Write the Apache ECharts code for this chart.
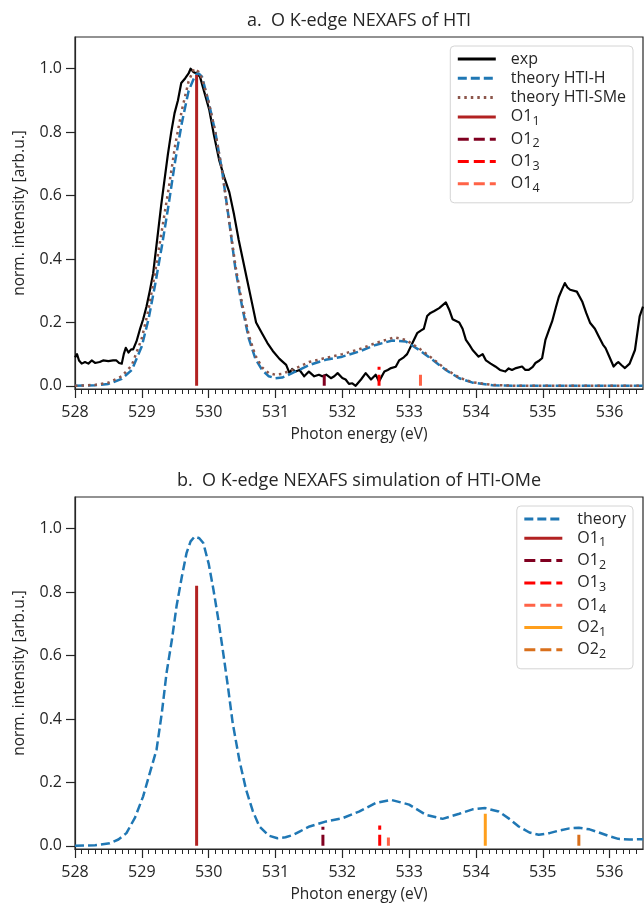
<!DOCTYPE html>
<html><head><meta charset="utf-8">
<script src="https://cdn.jsdelivr.net/npm/echarts@6/dist/echarts.min.js"></script>
<style>html,body{margin:0;padding:0;background:#fff}#c{width:644px;height:907px}</style>
</head><body><div id="c"></div>
<script>
// ---------- data ----------
const xMajorTicks = [528, 529, 530, 531, 532, 533, 534, 535, 536];
const yTicks = [0, 0.2, 0.4, 0.6, 0.8, 1.0];

const titleA = 'a.  O K-edge NEXAFS of HTI';
const titleB = 'b.  O K-edge NEXAFS simulation of HTI-OMe';
const xName = 'Photon energy (eV)';
const yName = 'norm. intensity [arb.u.]';

// panel a: experiment (energy eV, normalized intensity)
const expA = [[528.0,0.09],[528.03,0.1],[528.06,0.08],[528.1,0.07],[528.15,0.075],[528.2,0.07],[528.25,0.08],[528.3,0.072],[528.37,0.075],[528.42,0.08],[528.5,0.078],[528.57,0.08],[528.62,0.08],[528.66,0.072],[528.7,0.07],[528.73,0.1],[528.76,0.12],[528.8,0.105],[528.84,0.115],[528.87,0.115],[528.92,0.14],[528.97,0.177],[529.02,0.21],[529.07,0.25],[529.12,0.30],[529.17,0.355],[529.24,0.48],[529.29,0.57],[529.34,0.65],[529.39,0.73],[529.44,0.80],[529.49,0.86],[529.54,0.90],[529.59,0.955],[529.65,0.97],[529.7,0.985],[529.73,1.0],[529.77,0.99],[529.82,0.985],[529.87,0.975],[529.93,0.93],[530.01,0.87],[530.08,0.79],[530.16,0.71],[530.23,0.66],[530.31,0.61],[530.38,0.54],[530.45,0.46],[530.51,0.40],[530.58,0.33],[530.65,0.26],[530.71,0.20],[530.8,0.165],[530.88,0.135],[530.96,0.11],[531.06,0.085],[531.16,0.066],[531.21,0.04],[531.25,0.053],[531.3,0.045],[531.36,0.05],[531.43,0.03],[531.5,0.045],[531.58,0.03],[531.65,0.035],[531.7,0.03],[531.76,0.035],[531.83,0.024],[531.88,0.03],[531.93,0.04],[532.0,0.025],[532.05,0.02],[532.1,0.006],[532.15,0.008],[532.2,0.0],[532.28,0.02],[532.35,0.04],[532.43,0.02],[532.5,0.035],[532.55,0.014],[532.63,0.045],[532.68,0.05],[532.73,0.056],[532.8,0.06],[532.85,0.08],[532.92,0.09],[532.97,0.10],[533.05,0.135],[533.12,0.166],[533.18,0.175],[533.22,0.18],[533.27,0.22],[533.32,0.23],[533.37,0.235],[533.45,0.245],[533.55,0.263],[533.6,0.24],[533.65,0.21],[533.75,0.20],[533.8,0.18],[533.85,0.145],[533.9,0.13],[533.95,0.113],[534.04,0.092],[534.1,0.10],[534.15,0.08],[534.22,0.07],[534.29,0.061],[534.36,0.05],[534.44,0.045],[534.49,0.055],[534.54,0.05],[534.6,0.056],[534.69,0.061],[534.74,0.05],[534.79,0.05],[534.85,0.06],[534.89,0.072],[534.95,0.08],[534.99,0.087],[535.04,0.145],[535.1,0.18],[535.14,0.203],[535.2,0.25],[535.24,0.28],[535.29,0.305],[535.33,0.324],[535.37,0.31],[535.41,0.303],[535.51,0.297],[535.59,0.266],[535.65,0.23],[535.71,0.198],[535.78,0.18],[535.84,0.155],[535.9,0.13],[535.94,0.119],[536.0,0.09],[536.06,0.061],[536.1,0.07],[536.13,0.075],[536.18,0.065],[536.23,0.056],[536.3,0.07],[536.38,0.113],[536.45,0.219],[536.5,0.25]];

const theoryHA = [[528.0,0.0],[528.3,0.002],[528.5,0.006],[528.7,0.022],[528.85,0.05],[529.0,0.125],[529.1,0.21],[529.2,0.32],[529.3,0.44],[529.4,0.57],[529.5,0.71],[529.6,0.83],[529.7,0.93],[529.8,0.98],[529.85,0.985],[529.9,0.975],[530.0,0.895],[530.1,0.80],[530.2,0.68],[530.3,0.53],[530.4,0.37],[530.5,0.25],[530.6,0.15],[530.7,0.085],[530.8,0.05],[530.9,0.03],[531.0,0.024],[531.1,0.026],[531.25,0.04],[531.5,0.065],[531.75,0.082],[532.0,0.092],[532.25,0.108],[532.5,0.129],[532.75,0.143],[532.95,0.14],[533.15,0.113],[533.35,0.082],[533.55,0.05],[533.75,0.024],[533.95,0.01],[534.25,0.002],[534.6,0.0],[536.5,0.0]];

const theorySMeA = [[528.0,0.0],[528.3,0.003],[528.5,0.01],[528.7,0.03],[528.85,0.065],[529.0,0.15],[529.1,0.24],[529.2,0.36],[529.3,0.49],[529.4,0.62],[529.5,0.76],[529.6,0.87],[529.7,0.96],[529.78,1.0],[529.85,0.99],[529.9,0.97],[530.0,0.895],[530.1,0.80],[530.2,0.68],[530.3,0.53],[530.4,0.38],[530.5,0.26],[530.6,0.16],[530.7,0.095],[530.8,0.058],[530.9,0.04],[531.0,0.035],[531.1,0.038],[531.25,0.05],[531.5,0.075],[531.75,0.088],[532.0,0.10],[532.25,0.115],[532.5,0.135],[532.78,0.153],[532.95,0.145],[533.15,0.118],[533.35,0.086],[533.55,0.052],[533.75,0.026],[533.95,0.011],[534.25,0.003],[534.6,0.0],[536.5,0.0]];

const stickNamesA = ['O1_1', 'O1_2', 'O1_3', 'O1_4'];
const stickPosA = [529.82, 531.73, 532.55, 533.17];
const stickHeightA = [0.98, 0.037, 0.06, 0.035];

// panel b: simulation HTI-OMe
const theoryB = [[528.0,0.0],[528.3,0.002],[528.52,0.008],[528.65,0.02],[528.77,0.04],[528.9,0.09],[529.02,0.156],[529.12,0.23],[529.22,0.303],[529.3,0.42],[529.37,0.545],[529.45,0.65],[529.52,0.756],[529.6,0.85],[529.67,0.924],[529.73,0.96],[529.79,0.975],[529.86,0.97],[529.92,0.955],[530.0,0.89],[530.07,0.81],[530.14,0.72],[530.21,0.62],[530.29,0.50],[530.36,0.387],[530.46,0.27],[530.56,0.177],[530.66,0.11],[530.76,0.061],[530.9,0.032],[531.03,0.024],[531.15,0.027],[531.26,0.034],[531.36,0.045],[531.51,0.061],[531.76,0.077],[532.0,0.087],[532.25,0.108],[532.5,0.135],[532.73,0.145],[533.0,0.13],[533.25,0.098],[533.5,0.085],[533.75,0.101],[533.95,0.115],[534.14,0.119],[534.34,0.108],[534.5,0.085],[534.64,0.061],[534.8,0.042],[534.94,0.035],[535.1,0.04],[535.24,0.048],[535.4,0.055],[535.54,0.057],[535.7,0.052],[535.84,0.042],[536.0,0.03],[536.13,0.022],[536.3,0.02],[536.5,0.021]];

const stickNamesB = ['O1_1', 'O1_2', 'O1_3', 'O1_4', 'O2_1', 'O2_2'];
const stickPosB = [529.82, 531.71, 532.56, 532.69, 534.14, 535.54];
const stickHeightB = [0.82, 0.06, 0.064, 0.026, 0.101, 0.037];

// ---------- styles ----------
const FONT = 'Open Sans';
const INK = '#262626';
const stickStyle = {
  'O1_1': {color: '#b22222', dash: 'solid'},
  'O1_2': {color: '#800020', dash: [11, 5]},
  'O1_3': {color: '#ff0000', dash: [11, 5]},
  'O1_4': {color: '#ff6347', dash: [11, 5]},
  'O2_1': {color: '#ff9f1c', dash: 'solid'},
  'O2_2': {color: '#d9701c', dash: [11, 5]}
};
const XMIN = 528, XMAX = 536.5, YMIN = -0.01, YMAX = 1.1;

const minorTicks = [];
xMajorTicks.forEach(m => { for (let k = 1; k < 10; k++) { const v = +(m + k / 10).toFixed(2); if (v < XMAX) minorTicks.push(v); } });

function xAxes(gi) {
  return [{
    type: 'value', gridIndex: gi, min: XMIN, max: XMAX, position: 'bottom',
    name: xName, nameLocation: 'middle', nameGap: 38,
    nameTextStyle: {fontFamily: FONT, fontSize: 15.5, color: INK},
    axisLine: {show: true, onZero: false, lineStyle: {color: INK, width: 1.2}},
    axisTick: {show: true, inside: false, length: 9, customValues: xMajorTicks, lineStyle: {color: INK, width: 1.2}},
    axisLabel: {show: true, margin: 15, customValues: xMajorTicks, fontFamily: FONT, fontSize: 16, color: INK,
      formatter: v => String(Math.round(v))},
    splitLine: {show: false}
  }, {
    type: 'value', gridIndex: gi, min: XMIN, max: XMAX, position: 'bottom',
    axisLine: {show: false, onZero: false},
    axisTick: {show: true, inside: false, length: 5, customValues: minorTicks, lineStyle: {color: INK, width: 1}},
    axisLabel: {show: false},
    splitLine: {show: false}
  }];
}
function yAxis(gi) {
  return {
    type: 'value', gridIndex: gi, min: YMIN, max: YMAX,
    name: yName, nameLocation: 'middle', nameGap: 47,
    nameTextStyle: {fontFamily: FONT, fontSize: 15.5, color: INK},
    axisLine: {show: true, onZero: false, lineStyle: {color: INK, width: 1.2}},
    axisTick: {show: true, inside: false, length: 9, customValues: yTicks, lineStyle: {color: INK, width: 1.2}},
    axisLabel: {show: true, margin: 13, customValues: yTicks, fontFamily: FONT, fontSize: 16, color: INK,
      formatter: v => v.toFixed(1)},
    splitLine: {show: false}
  };
}
function curve(name, data, xi, yi, color, type, width) {
  return {type: 'line', name, data, xAxisIndex: xi, yAxisIndex: yi, symbol: 'none', showSymbol: false,
    smooth: false, silent: true, animation: false,
    lineStyle: {color, width, type, cap: 'butt', join: 'round'}, itemStyle: {color}};
}
function sticks(prefix, names, pos, hts, xi, yi) {
  return names.map((n, i) => {
    const st = stickStyle[n];
    return {type: 'line', name: prefix + n, xAxisIndex: xi, yAxisIndex: yi, data: [[pos[i], 0], [pos[i], hts[i]]],
      symbol: 'none', showSymbol: false, silent: true, animation: false, z: 5,
      lineStyle: {color: st.color, width: 3, type: st.dash, cap: 'butt'}, itemStyle: {color: st.color}};
  });
}
function legendFmt(name) {
  const n = name.slice(2);
  const m = n.match(/^(O\d)_(\d)$/);
  return m ? '{n|' + m[1] + '}{s|' + m[2] + '}' : '{n|' + n + '}';
}
const legendText = {
  fontFamily: FONT, fontSize: 16, color: INK, padding: [0, 0, 0, 10],
  rich: {
    n: {fontFamily: FONT, fontSize: 16, color: INK, lineHeight: 22, verticalAlign: 'middle'},
    s: {fontFamily: FONT, fontSize: 12.5, color: INK, lineHeight: 10, verticalAlign: 'bottom'}
  }
};
function legend(names, right, top) {
  return {data: names, orient: 'vertical', right, top, itemWidth: 38, itemHeight: 14, itemGap: 3.3,
    backgroundColor: '#fff', borderColor: '#d4d4d4', borderWidth: 1, borderRadius: 4, padding: [5, 7, 8, 6],
    selectedMode: false, formatter: legendFmt, textStyle: legendText, itemStyle: {opacity: 0},
    lineStyle: {width: 3}, align: 'left'};
}

const series = [
  curve('a:exp', expA, 0, 0, '#000000', 'solid', 2.2),
  curve('a:theory HTI-H', theoryHA, 0, 0, '#1f77b4', [9, 4], 2.5),
  curve('a:theory HTI-SMe', theorySMeA, 0, 0, '#8c564b', [2.5, 4], 2.5),
  ...sticks('a:', stickNamesA, stickPosA, stickHeightA, 0, 0),
  curve('b:theory', theoryB, 2, 1, '#1f77b4', [9, 4], 2.5),
  ...sticks('b:', stickNamesB, stickPosB, stickHeightB, 2, 1)
];

const option = {
  backgroundColor: '#fff',
  animation: false,
  title: [
    {text: titleA, left: 359, top: 12, textAlign: 'center', padding: 0,
      textStyle: {fontFamily: FONT, fontSize: 18, fontWeight: 'normal', color: INK}},
    {text: titleB, left: 359, top: 472, textAlign: 'center', padding: 0,
      textStyle: {fontFamily: FONT, fontSize: 18, fontWeight: 'normal', color: INK}}
  ],
  grid: [
    {left: 75, top: 37, width: 568, height: 352, show: true, borderColor: INK, borderWidth: 1.2, backgroundColor: 'transparent'},
    {left: 75, top: 497, width: 568, height: 352, show: true, borderColor: INK, borderWidth: 1.2, backgroundColor: 'transparent'}
  ],
  xAxis: [...xAxes(0), ...xAxes(1)],
  yAxis: [yAxis(0), yAxis(1)],
  legend: [
    legend(['a:exp', 'a:theory HTI-H', 'a:theory HTI-SMe'].concat(stickNamesA.map(n => 'a:' + n)), 11, 46),
    legend(['b:theory'].concat(stickNamesB.map(n => 'b:' + n)), 11, 506)
  ],
  series
};
const chart = echarts.init(document.getElementById('c'), null, {renderer: 'canvas'});
chart.setOption(option);
</script></body></html>
